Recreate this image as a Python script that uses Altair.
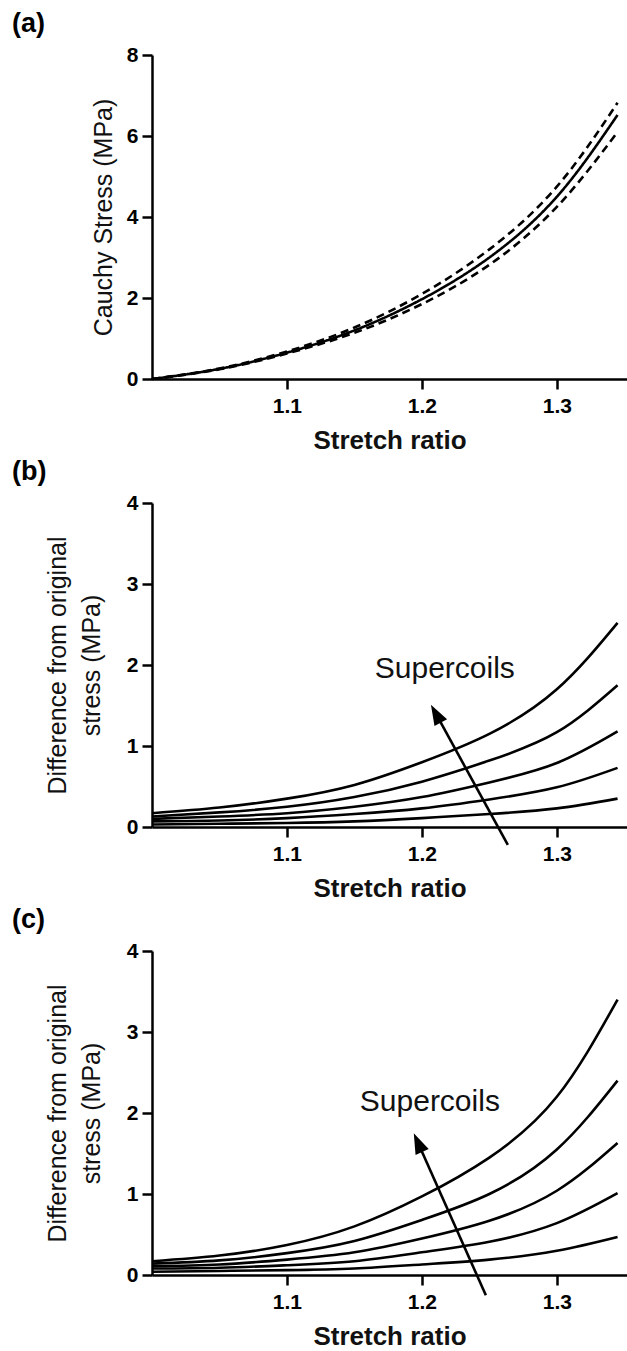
import math
import altair as alt
import pandas as pd

FONT = "Liberation Sans"

# Stretch ratio sample points shared by every curve
stretch = [1.0, 1.05, 1.1, 1.15, 1.2, 1.25, 1.3, 1.345]

# (a) Cauchy stress (MPa): mean fit and the two bounding fits
stress_mean = [0.0, 0.25, 0.65, 1.20, 1.97, 3.00, 4.50, 6.52]
stress_upper = [0.0, 0.26, 0.68, 1.27, 2.10, 3.20, 4.75, 6.82]
stress_lower = [0.0, 0.24, 0.63, 1.14, 1.85, 2.82, 4.25, 6.10]

# (b) difference from original stress (MPa), one list per supercoil count
diff_b = [
    [0.03, 0.04, 0.05, 0.07, 0.11, 0.16, 0.23, 0.35],
    [0.07, 0.08, 0.11, 0.16, 0.23, 0.34, 0.49, 0.73],
    [0.10, 0.13, 0.17, 0.25, 0.37, 0.55, 0.79, 1.18],
    [0.13, 0.18, 0.25, 0.37, 0.56, 0.82, 1.17, 1.75],
    [0.17, 0.24, 0.35, 0.52, 0.80, 1.15, 1.70, 2.52],
]

# (c) difference from original stress (MPa)
diff_c = [
    [0.04, 0.05, 0.06, 0.08, 0.13, 0.19, 0.30, 0.47],
    [0.08, 0.09, 0.12, 0.17, 0.28, 0.41, 0.64, 1.01],
    [0.11, 0.13, 0.19, 0.28, 0.45, 0.67, 1.04, 1.63],
    [0.14, 0.18, 0.27, 0.42, 0.68, 1.00, 1.55, 2.40],
    [0.17, 0.24, 0.37, 0.60, 0.97, 1.45, 2.20, 3.40],
]

# Arrow (tail -> tip) and label position for the "Supercoils" annotation
arrow_b = {"x": [1.2637, 1.2067], "y": [-0.22, 1.51]}
label_b = {"x": 1.217, "y": 1.95}
arrow_c = {"x": [1.2474, 1.194], "y": [-0.25, 1.75]}
label_c = {"x": 1.2059, "y": 2.14}

X_DOMAIN = [1.0, 1.352]
PLOT_W = 475
PLOT_H = 324


def x_enc():
    return alt.X(
        "x:Q",
        scale=alt.Scale(domain=X_DOMAIN, nice=False, zero=False),
        axis=alt.Axis(values=[1.1, 1.2, 1.3], format=".1f", title="Stretch ratio",
                      titleFontWeight="bold", titleFontSize=26, titlePadding=11,
                      labelPadding=6),
    )


def y_enc(domain, ticks, title, title_pad):
    return alt.Y(
        "y:Q",
        scale=alt.Scale(domain=domain, nice=False),
        axis=alt.Axis(values=ticks, format="d", title=title, titleFontWeight="normal",
                      titleFontSize=25, titlePadding=title_pad, titleLineHeight=34,
                      labelPadding=4),
    )


def panel_title(text):
    return alt.TitleParams(text, anchor="start", frame="group", dx=-140, fontSize=27,
                           fontWeight="bold", font=FONT, color="black", offset=6)


def arrow_layers(arrow, label, y_per_unit):
    x_per_unit = PLOT_W / (X_DOMAIN[1] - X_DOMAIN[0])
    x0, x1 = arrow["x"]
    y0, y1 = arrow["y"]
    # stop the shaft just short of the tip so the head stays sharp
    shaft = pd.DataFrame({
        "x": [x0, x0 + 0.9 * (x1 - x0)],
        "y": [y0, y0 + 0.9 * (y1 - y0)],
    })
    dx_px = (x1 - x0) * x_per_unit
    dy_px = -(y1 - y0) * y_per_unit
    angle = math.degrees(math.atan2(dx_px, -dy_px)) % 360
    head = pd.DataFrame({"x": [x1], "y": [y1]})
    txt = pd.DataFrame({"x": [label["x"]], "y": [label["y"]], "t": ["Supercoils"]})

    line = alt.Chart(shaft).mark_line(color="black", strokeWidth=2.6, clip=False).encode(
        x="x:Q", y="y:Q")
    tip = alt.Chart(head).mark_point(
        shape="M0,0L0.7,2L-0.7,2Z", size=420, filled=True, opacity=1,
        color="black", angle=angle, clip=False,
    ).encode(x="x:Q", y="y:Q")
    words = alt.Chart(txt).mark_text(font=FONT, fontSize=30, color="#111111").encode(
        x="x:Q", y="y:Q", text="t:N")
    return [line, tip, words]


# ---- (a) ----
rows_a = []
for name, style, vals in [("upper", "dashed", stress_upper),
                          ("mean", "solid", stress_mean),
                          ("lower", "dashed", stress_lower)]:
    for sx, sy in zip(stretch, vals):
        rows_a.append({"x": sx, "y": sy, "series": name, "style": style})
df_a = pd.DataFrame(rows_a)

chart_a = alt.Chart(df_a).mark_line(color="black", strokeWidth=2.6, interpolate="natural").encode(
    x=x_enc(),
    y=y_enc([0, 8], [0, 2, 4, 6, 8], "Cauchy Stress (MPa)", 10),
    detail="series:N",
    strokeDash=alt.StrokeDash("style:N", scale=alt.Scale(domain=["solid", "dashed"],
                                                         range=[[1, 0], [8, 5]]), legend=None),
).properties(width=PLOT_W, height=PLOT_H, title=panel_title("(a)"))


def diff_panel(curves, arrow, label, letter):
    rows = []
    for i, vals in enumerate(curves):
        for sx, sy in zip(stretch, vals):
            rows.append({"x": sx, "y": sy, "series": f"s{i}"})
    df = pd.DataFrame(rows)
    lines = alt.Chart(df).mark_line(color="black", strokeWidth=2.6, interpolate="natural").encode(
        x=x_enc(),
        y=y_enc([0, 4], [0, 1, 2, 3, 4], ["Difference from original", "stress (MPa)"], 22),
        detail="series:N",
    )
    return alt.layer(lines, *arrow_layers(arrow, label, PLOT_H / 4)).properties(
        width=PLOT_W, height=PLOT_H, title=panel_title(letter))


chart_b = diff_panel(diff_b, arrow_b, label_b, "(b)")
chart_c = diff_panel(diff_c, arrow_c, label_c, "(c)")

chart = alt.vconcat(chart_a, chart_b, chart_c, spacing=5).properties(
    padding={"left": 12, "top": 10, "right": 0, "bottom": 0}
).configure_view(stroke=None).configure_axis(
    grid=False,
    domainColor="black", domainWidth=2.5,
    tickColor="black", tickWidth=2.5, tickSize=10,
    labelFont=FONT, labelFontSize=21, labelFontWeight="bold", labelColor="black",
    titleFont=FONT, titleColor="#111111",
)

chart.save("out.html", embed_options={"renderer": "svg", "actions": False})
